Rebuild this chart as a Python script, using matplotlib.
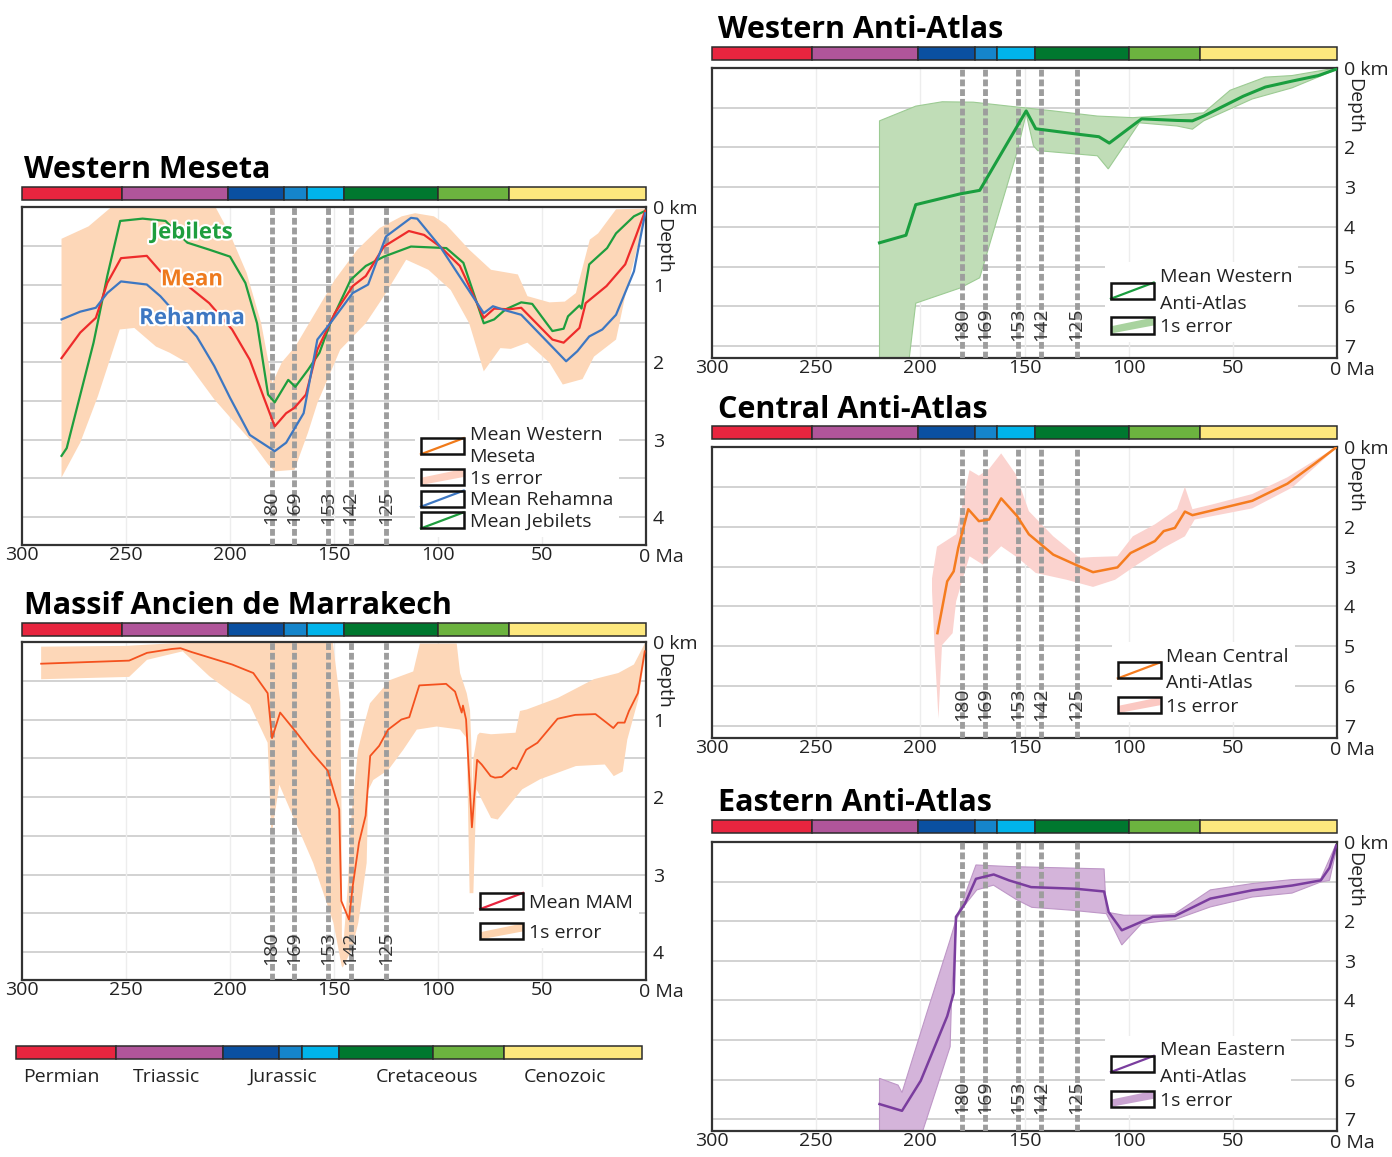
import numpy as np
import matplotlib.pyplot as plt
import matplotlib.patheffects as pe
from matplotlib.legend_handler import HandlerBase
from matplotlib.patches import Rectangle, Polygon, Patch
from matplotlib.lines import Line2D
from matplotlib.transforms import blended_transform_factory

plt.rcParams['font.family'] = ['Open Sans', 'DejaVu Sans']

# geological time scale
period_start = [300, 252, 201, 174, 163, 145, 100, 66]
period_end = [252, 201, 174, 163, 145, 100, 66, 0]
period_colors = ['#E8253F', '#B0559A', '#0A50A1', '#1585CB', '#00B4EB',
                 '#00782F', '#6CB33F', '#FDE87E']
era_names = ['Permian', 'Triassic', 'Jurassic', 'Cretaceous', 'Cenozoic']
era_mid = [278.4, 228.1, 172.1, 103.1, 36.9]
event_ages = [180, 169, 153, 142, 125]

# Western Meseta
wm_age_jeb = [281, 278.5, 273, 265.6, 259, 252.8, 242, 231, 220.5, 210, 200, 192.6, 187, 181.7, 178.5,
              172, 168.6, 162.5, 157, 151.8, 142, 134.7, 126, 113, 96, 87.8, 78, 73, 67.5, 60, 54.7,
              45, 39.6, 37.5, 32, 31, 27.3, 18.7, 14.4, 5.8, 0.4]
wm_dep_jeb = [3.21, 3.11, 2.53, 1.75, 0.89, 0.18, 0.15, 0.18, 0.46, 0.55, 0.64, 0.98, 1.50, 2.42, 2.52,
              2.23, 2.32, 2.10, 1.88, 1.50, 0.94, 0.76, 0.64, 0.51, 0.53, 0.72, 1.50, 1.45, 1.32, 1.23, 1.25,
              1.60, 1.57, 1.41, 1.27, 1.31, 0.74, 0.53, 0.34, 0.12, 0.05]
wm_age_mean = [281, 272, 264.5, 259, 252.4, 240, 233.5, 224.8, 210, 199, 190.5, 184, 178.5, 173, 169,
               163.5, 158, 149.6, 141, 134.7, 126, 114, 106.7, 99, 89.5, 78, 73, 66, 60, 45, 39.6, 32,
               29, 19, 10, 4.9, 0.4]
wm_dep_mean = [1.95, 1.62, 1.43, 0.98, 0.66, 0.63, 0.83, 0.92, 1.24, 1.58, 1.97, 2.44, 2.83, 2.66, 2.59,
               2.42, 1.84, 1.37, 1.02, 0.89, 0.51, 0.31, 0.36, 0.51, 0.76, 1.43, 1.31, 1.32, 1.30, 1.71,
               1.75, 1.56, 1.24, 1.02, 0.74, 0.38, 0.05]
wm_age_reh = [281, 272, 264.5, 259, 252.4, 240, 233.5, 224.8, 216, 207.6, 200, 190.5, 178.5, 173, 164.6,
              158, 151.8, 141, 133.6, 125, 113, 110, 99, 78, 73.6, 68, 60, 38.4, 33, 27.3, 21, 14.4, 5.8, 0.4]
wm_dep_reh = [1.45, 1.35, 1.30, 1.11, 0.96, 1.00, 1.15, 1.41, 1.67, 2.05, 2.46, 2.94, 3.15, 3.04, 2.66,
              1.71, 1.50, 1.11, 1.00, 0.38, 0.14, 0.15, 0.51, 1.37, 1.28, 1.33, 1.39, 1.99, 1.86, 1.67,
              1.58, 1.39, 0.83, 0.08]
wm_age_up = [281, 268, 257, 207, 200, 192, 185, 179.6, 175, 168.6, 160, 149.6, 138.8, 128, 117.4, 111,
             102, 96, 85, 74.5, 61.6, 57, 46.4, 39, 33.7, 27, 23, 14.4, 0.4]
wm_dep_up = [0.41, 0.25, 0.0, 0.0, 0.35, 0.85, 1.5, 2.27, 2.0, 1.80, 1.41, 0.94, 0.55, 0.27, 0.12, 0.08,
             0.12, 0.23, 0.55, 0.81, 0.87, 1.15, 1.23, 1.22, 1.11, 0.42, 0.34, 0.03, 0.02]
wm_age_lo = [281, 272, 263.5, 253, 246, 235.6, 229, 220.5, 207.6, 190.5, 181.7, 178.5, 169, 162.5, 158,
             147, 134.7, 126, 115.3, 104.6, 93.9, 85, 78, 70, 65, 57, 46.4, 40, 30.5, 25, 14.4, 10, 3.6, 0.4]
wm_dep_lo = [3.49, 3.04, 2.44, 1.58, 1.56, 1.80, 1.88, 2.01, 2.48, 3.00, 3.32, 3.41, 3.39, 2.91, 2.53,
             1.84, 1.50, 1.15, 0.68, 0.81, 1.07, 1.50, 2.12, 1.82, 1.83, 1.75, 2.01, 2.29, 2.22, 1.93,
             1.71, 1.15, 0.46, 0.12]

# Massif Ancien de Marrakech
mam_age = [290.8, 248.5, 239.9, 228, 223.8, 218.4, 199, 188.8, 181.9, 179.8, 175.9, 168, 160.5, 153,
           147.5, 146.5, 142.8, 141, 138, 134.8, 132.6, 128.3, 124, 117.6, 113.8, 109, 96.1, 91.8, 88.6,
           88, 86.5, 83.7, 81.2, 79, 74.7, 72.6, 69.3, 64, 62.3, 57.6, 52.2, 42.5, 34, 24.3, 19, 15.7,
           13.5, 10.3, 8.2, 3.9, 0.6]
mam_dep = [0.28, 0.24, 0.14, 0.09, 0.08, 0.13, 0.29, 0.40, 0.66, 1.24, 0.91, 1.17, 1.43, 1.66, 2.16,
           3.34, 3.58, 3.15, 2.59, 2.24, 1.47, 1.34, 1.13, 1.00, 0.97, 0.56, 0.54, 0.64, 0.91, 0.82,
           1.00, 2.39, 1.52, 1.58, 1.73, 1.75, 1.74, 1.62, 1.64, 1.39, 1.30, 0.99, 0.94, 0.93, 1.04,
           1.11, 1.04, 1.04, 0.89, 0.66, 0.12]
mam_age_up = [290.8, 250, 230, 200, 150.6, 147, 146.4, 146.2, 145.5, 143.5, 141.5, 138.5, 135.9, 132.7,
              123, 111.9, 108.7, 91, 89.4, 86.2, 84.6, 84.0, 83.5, 83.0, 81, 79.9, 74.5, 62.7, 60.6,
              57.3, 42.3, 25.1, 13.3, 5.8, 0.4]
mam_dep_up = [0.06, 0.05, 0.02, 0.0, 0.0, 0.77, 2.2, 3.8, 3.9, 3.2, 2.2, 1.4, 1.1, 0.79, 0.49, 0.38,
              0.02, 0.02, 0.40, 0.66, 0.88, 1.3, 2.0, 1.5, 1.2, 1.17, 1.19, 1.17, 0.89, 0.87, 0.72, 0.48,
              0.40, 0.29, 0.01]
mam_age_lo = [290.8, 248.5, 239.9, 222.7, 210, 199, 190.5, 181.9, 180.2, 179.6, 176.3, 160, 150.3,
              146.3, 145.8, 141.5, 138.3, 134.3, 133.5, 131.1, 123.9, 116.7, 110.2, 100.6, 89.4, 86.2,
              84.8, 83.0, 81.5, 74.5, 71.3, 59.5, 50.9, 33.7, 19.8, 15.5, 11.2, 9.0, 3.7, 0.4]
mam_dep_lo = [0.48, 0.45, 0.23, 0.12, 0.44, 0.66, 0.81, 1.30, 2.42, 2.42, 1.84, 2.85, 3.62, 4.18, 4.2,
              3.97, 3.62, 2.85, 1.91, 1.78, 1.65, 1.39, 1.13, 1.09, 1.13, 1.24, 3.24, 3.24, 1.9, 2.27,
              2.29, 1.90, 1.77, 1.60, 1.58, 1.73, 1.67, 1.26, 0.74, 0.18]

# Western Anti-Atlas
waa_age = [219.6, 206.9, 202.2, 181, 171.5, 149.2, 144.6, 123.8, 114.3, 109.3, 93.8, 76.8, 69.4, 64,
           45, 34.4, 21.6, 8.9, 0.4]
waa_dep = [4.40, 4.21, 3.44, 3.17, 3.08, 1.08, 1.53, 1.67, 1.73, 1.89, 1.28, 1.32, 1.33, 1.21, 0.71,
           0.48, 0.33, 0.19, 0.03]
waa_age_up = [219.6, 202.2, 189.5, 174.6, 157.4, 136.2, 115, 98, 64, 51.3, 34.4, 21.6, 0.4]
waa_dep_up = [1.33, 0.96, 0.85, 0.86, 0.96, 1.08, 1.21, 1.25, 1.13, 0.56, 0.23, 0.19, 0.0]
waa_age_lo = [219.6, 206.9, 202.2, 181, 171.5, 153.5, 149.2, 145.7, 143.6, 115, 109.8, 94.9, 76.8,
              69.4, 64, 40.7, 21.6, 0.4]
waa_dep_lo = [8.0, 8.0, 5.92, 5.54, 5.28, 2.1, 1.15, 1.96, 2.08, 2.21, 2.54, 1.38, 1.46, 1.54, 1.33,
              0.78, 0.50, 0.04]

# Central Anti-Atlas
caa_age = [191.8, 187.1, 184, 181.8, 177, 171.9, 167, 161.2, 153.6, 147.9, 136.2, 125.6, 117.1, 105.4,
           99.1, 87.4, 83.2, 77.8, 73, 69.4, 59.8, 40.7, 23.8, 11, 0.4]
caa_dep = [4.67, 3.37, 3.12, 2.53, 1.56, 1.86, 1.82, 1.29, 1.73, 2.19, 2.70, 2.95, 3.14, 3.02, 2.66,
           2.36, 2.11, 2.03, 1.62, 1.71, 1.59, 1.35, 0.92, 0.43, 0.01]
caa_age_up = [194.4, 192, 182.8, 176.4, 171.9, 167, 161.2, 154.2, 147.9, 136.2, 123.5, 117.1, 105.4,
              98, 87.4, 76.8, 73, 69.4, 59.8, 40.7, 23.8, 0.4]
caa_dep_up = [3.3, 2.5, 2.19, 0.58, 0.72, 0.55, 0.16, 0.68, 1.61, 2.24, 2.78, 2.76, 2.74, 2.24, 1.94,
              1.56, 1.00, 1.56, 1.44, 1.18, 0.76, 0.0]
caa_age_lo = [194.4, 193.0, 191.3, 189.6, 184.5, 182.8, 176.4, 170, 161.2, 153.2, 144.6, 129.8, 117.1,
              106.5, 95.9, 83.2, 73, 68.3, 40.7, 21.6, 0.4]
caa_dep_lo = [3.6, 5.2, 6.81, 4.97, 4.67, 3.87, 2.74, 2.95, 2.49, 2.78, 3.16, 3.33, 3.51, 3.33, 2.95,
              2.53, 2.24, 1.82, 1.54, 1.02, 0.03]

# Eastern Anti-Atlas
eaa_age = [219.6, 208.8, 199.8, 187.1, 184, 182.9, 178.6, 173.3, 164.8, 157.4, 146.8, 125.6, 111.8,
           109.6, 103.3, 88.4, 77.8, 60.8, 40.7, 21.6, 7.8, 3.6, 0.4]
eaa_dep = [6.62, 6.79, 6.03, 4.40, 3.82, 1.89, 1.56, 0.93, 0.82, 0.97, 1.14, 1.18, 1.25, 1.77, 2.23,
           1.89, 1.87, 1.43, 1.22, 1.10, 0.97, 0.65, 0.09]
eaa_age_up = [219.6, 210.7, 208.8, 196.9, 185.7, 182.5, 173.3, 157.4, 111.8, 110.7, 102.3, 89.5, 77.8,
              60.8, 40.7, 21.6, 7.8, 3.6, 0.4]
eaa_dep_up = [5.97, 6.14, 6.33, 4.32, 2.47, 1.90, 0.58, 0.62, 0.68, 1.77, 1.85, 1.85, 1.81, 1.21, 1.05,
              0.95, 0.93, 0.43, 0.05]
eaa_age_lo = [219.6, 200.1, 185.7, 184.9, 182.5, 178.6, 172.9, 164.9, 162.5, 153.7, 146.5, 128.1,
              110.7, 103.3, 93.8, 77.8, 60.8, 40.7, 21.6, 7.8, 3.6, 0.4]
eaa_dep_lo = [8.0, 7.5, 5.17, 3.74, 1.93, 1.59, 1.21, 1.09, 1.17, 1.46, 1.65, 1.72, 1.81, 2.60, 2.06,
              1.96, 1.64, 1.39, 1.29, 1.01, 0.97, 0.21]

W, H = 1392, 1157
fig = plt.figure(figsize=(W / 100, H / 100), dpi=100)


def px_axes(x0, y0, x1, y1):
    return fig.add_axes([x0 / W, 1 - y1 / H, (x1 - x0) / W, (y1 - y0) / H])


class BoxHandler(HandlerBase):
    # boxed legend key: diagonal line for a mean, diagonal stripe for the error band
    def create_artists(self, legend, orig, xd, yd, w, h, fs, trans):
        x0, y0 = -xd, -yd
        arts = []
        if isinstance(orig, Line2D):
            arts.append(Line2D([x0, x0 + w], [y0, y0 + h], color=orig.get_color(), lw=1.6, transform=trans))
        else:
            arts.append(Polygon([[x0, y0], [x0, y0 + 0.45 * h], [x0 + w, y0 + h], [x0 + w, y0 + 0.5 * h]],
                                closed=True, fc=orig.get_facecolor(), ec='none', transform=trans))
        arts.append(Rectangle((x0, y0), w, h, fill=False, ec='#111111', lw=1.8, transform=trans))
        return arts


def period_bar(x0, y0, x1, y1):
    ax = px_axes(x0, y0, x1, y1)
    widths = [s - e for s, e in zip(period_start, period_end)]
    bars = ax.barh(0, widths, left=period_end, height=1, color=period_colors,
                   edgecolor='#2b2b2b', linewidth=1.1)
    for b in bars:
        b.set_clip_on(False)
    ax.set_xlim(300, 0)
    ax.set_ylim(-0.5, 0.5)
    ax.axis('off')
    return ax


def panel(box, bar, title, title_xy, ymax, step, yticks, depth_y, label_y):
    period_bar(*bar)
    fig.text(title_xy[0] / W, 1 - title_xy[1] / H, title, fontsize=22, fontweight='bold',
             va='baseline', ha='left', color='black')
    ax = px_axes(*box)
    ax.set_xlim(300, 0)
    ax.set_ylim(ymax, 0)
    for d in np.arange(step, ymax, step):
        ax.axhline(d, color='#d2d2d2', lw=1.4, zorder=0)
    for a in range(50, 300, 50):
        ax.axvline(a, color='#ededed', lw=1.0, zorder=0)
    ax.set_xticks([300, 250, 200, 150, 100, 50, 0])
    ax.set_xticklabels(['300', '250', '200', '150', '100', '50', ''])
    ax.yaxis.tick_right()
    ax.set_yticks(yticks)
    ax.set_yticklabels(['0 km'] + [str(int(t)) for t in yticks[1:]])
    ax.tick_params(length=0, labelsize=14, colors='#222222')
    ax.tick_params(axis='x', pad=1)
    ax.tick_params(axis='y', pad=5)
    for s in ax.spines.values():
        s.set_color('#333333')
        s.set_linewidth(1.6)
    bt = blended_transform_factory(ax.transData, ax.transAxes)
    ax.annotate('0 Ma', xy=(0, 0), xycoords=bt, xytext=(-5, -2), textcoords='offset points',
                ha='left', va='top', fontsize=14, color='#222222')
    bt2 = blended_transform_factory(ax.transAxes, ax.transData)
    ax.annotate('Depth', xy=(1, depth_y), xycoords=bt2, xytext=(12, 0), textcoords='offset points',
                ha='center', va='center', rotation=-90, fontsize=14, color='#222222')
    for a in event_ages:
        ax.axvline(a, color='#9d9d9d', lw=3.5, dashes=(1.4, 0.6), zorder=3)
        ax.text(a, label_y, str(a), rotation=90, ha='center', va='center', fontsize=14,
                color='#333333', zorder=4)
    return ax


def band(ax, age_up, dep_up, age_lo, dep_lo, fc, ec='none'):
    ax.fill(np.concatenate([age_up, age_lo[::-1]]), np.concatenate([dep_up, dep_lo[::-1]]),
            facecolor=fc, edgecolor=ec, lw=0.8, zorder=1)


def box_legend(ax, handles, labels, anchor, spacing, lsp=1.4):
    leg = ax.legend(handles, labels, loc='upper left', bbox_to_anchor=anchor,
                    handler_map={Line2D: BoxHandler(), Patch: BoxHandler()},
                    fontsize=14, frameon=True, facecolor='white', edgecolor='none', framealpha=1,
                    handlelength=2.2, handleheight=0.9, handletextpad=0.3,
                    labelspacing=spacing, borderpad=0.3, borderaxespad=0)
    for t in leg.get_texts():
        t.set_linespacing(lsp)
        t.set_color('#222222')
    leg.set_zorder(6)
    return leg


# ---- Western Meseta
ax = panel((22, 207, 646, 545), (22, 187, 646, 200), 'Western Meseta', (24, 178),
           4.36, 0.5, [0, 1, 2, 3, 4], 0.5, 3.87)
band(ax, np.array(wm_age_up), np.array(wm_dep_up), np.array(wm_age_lo), np.array(wm_dep_lo), '#FDD7B8')
ax.plot(wm_age_jeb, wm_dep_jeb, color='#1E9E3E', lw=1.6, zorder=5)
ax.plot(wm_age_mean, wm_dep_mean, color='#EE2B2B', lw=1.6, zorder=5)
ax.plot(wm_age_reh, wm_dep_reh, color='#3D77C2', lw=1.6, zorder=5)
for txt, c, d in [('Jebilets', '#1E9E3E', 0.335), ('Mean', '#EE7A1E', 0.94), ('Rehamna', '#3D77C2', 1.44)]:
    ax.text(218.3, d, txt, color=c, fontsize=16, fontweight='bold', ha='center', va='center', zorder=6,
            path_effects=[pe.withStroke(linewidth=3, foreground='white')])
box_legend(ax, [Line2D([], [], color='#F07A1A'), Patch(facecolor='#FDD0C0'),
                Line2D([], [], color='#3D77C2'), Line2D([], [], color='#1E9E3E')],
           ['Mean Western\nMeseta', '1s error', 'Mean Rehamna', 'Mean Jebilets'],
           (0.63, 0.37), 0.15, 1.3)

# ---- Massif Ancien de Marrakech
ax = panel((22, 642, 646, 980), (22, 623, 646, 636), 'Massif Ancien de Marrakech', (24, 614),
           4.36, 0.5, [0, 1, 2, 3, 4], 0.5, 3.95)
band(ax, np.array(mam_age_up), np.array(mam_dep_up), np.array(mam_age_lo), np.array(mam_dep_lo), '#FDD7B8')
ax.plot(mam_age, mam_dep, color='#F4511E', lw=1.3, zorder=5)
box_legend(ax, [Line2D([], [], color='#E8253F'), Patch(facecolor='#FDD3AE')],
           ['Mean MAM', '1s error'], (0.725, 0.275), 0.6)

# ---- Western Anti-Atlas
ax = panel((712, 68, 1337, 358), (712, 47, 1337, 60), 'Western Anti-Atlas', (718, 38),
           7.3, 1, [0, 2, 3, 4, 5, 6, 7], 0.96, 6.45)
band(ax, np.array(waa_age_up), np.array(waa_dep_up), np.array(waa_age_lo), np.array(waa_dep_lo),
     '#C0DDB7', '#9CCB93')
ax.plot(waa_age, waa_dep, color='#1A9E3F', lw=2.2, zorder=5)
box_legend(ax, [Line2D([], [], color='#1A9E3F'), Patch(facecolor='#A9D39F')],
           ['Mean Western\nAnti-Atlas', '1s error'], (0.629, 0.33), 0.25, 1.6)

# ---- Central Anti-Atlas
ax = panel((712, 447, 1337, 738), (712, 426, 1337, 439), 'Central Anti-Atlas', (718, 418),
           7.3, 1, [0, 2, 3, 4, 5, 6, 7], 0.96, 6.45)
band(ax, np.array(caa_age_up), np.array(caa_dep_up), np.array(caa_age_lo), np.array(caa_dep_lo), '#FBD3CF')
ax.plot(caa_age, caa_dep, color='#F57C1F', lw=1.8, zorder=5)
box_legend(ax, [Line2D([], [], color='#F57C1F'), Patch(facecolor='#FBC8C2')],
           ['Mean Central\nAnti-Atlas', '1s error'], (0.64, 0.33), 0.25, 1.6)

# ---- Eastern Anti-Atlas
ax = panel((712, 842, 1337, 1131), (712, 820, 1337, 833), 'Eastern Anti-Atlas', (718, 811),
           7.3, 1, [0, 2, 3, 4, 5, 6, 7], 0.96, 6.45)
band(ax, np.array(eaa_age_up), np.array(eaa_dep_up), np.array(eaa_age_lo), np.array(eaa_dep_lo),
     '#D4B4DA', '#BE97C7')
ax.plot(eaa_age, eaa_dep, color='#7A3D9E', lw=1.8, zorder=5)
box_legend(ax, [Line2D([], [], color='#7A3D9E'), Patch(facecolor='#C9A3D1')],
           ['Mean Eastern\nAnti-Atlas', '1s error'], (0.629, 0.33), 0.25, 1.6)

# ---- time scale key
kax = period_bar(16, 1046, 642, 1059)
for name, mid in zip(era_names, era_mid):
    kax.text(mid, -1.85, name, ha='center', va='center', fontsize=14, color='#222222')

fig.savefig('out.png', dpi=100)
